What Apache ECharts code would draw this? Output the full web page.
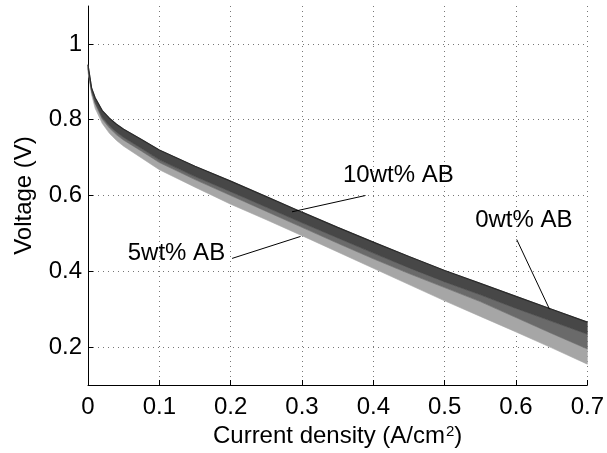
<!DOCTYPE html>
<html><head><meta charset="utf-8">
<script src="https://cdn.jsdelivr.net/npm/echarts@6/dist/echarts.min.js"></script>
<style>html,body{margin:0;padding:0;background:#fff}#c{width:607px;height:453px}</style>
</head><body><div id="c"></div>
<script>
// Current density (A/cm^2)
const currentDensity = [0, 0.005, 0.01, 0.02, 0.03, 0.04, 0.05, 0.075, 0.1, 0.15, 0.2, 0.25, 0.3, 0.35, 0.4, 0.45, 0.5, 0.55, 0.6, 0.65, 0.7];
// Upper edge of the band (darkest curves)
const upperEdge = [0.945, 0.884, 0.858, 0.824, 0.804, 0.788, 0.775, 0.748, 0.72, 0.677, 0.638, 0.597, 0.556, 0.516, 0.477, 0.439, 0.402, 0.368, 0.334, 0.30, 0.266];
// Lower edge of the dark curves
const darkLower = [0.938, 0.877, 0.846, 0.806, 0.784, 0.767, 0.753, 0.724, 0.694, 0.650, 0.610, 0.569, 0.528, 0.488, 0.448, 0.409, 0.372, 0.338, 0.302, 0.268, 0.234];
// Lower edge of the medium curves
const midLower = [0.935, 0.874, 0.842, 0.801, 0.778, 0.760, 0.746, 0.717, 0.687, 0.642, 0.600, 0.558, 0.516, 0.474, 0.433, 0.394, 0.357, 0.320, 0.278, 0.236, 0.195];
// Lower edge of the band (lightest curves)
const lowerEdge = [0.925, 0.866, 0.830, 0.790, 0.764, 0.745, 0.730, 0.699, 0.668, 0.622, 0.577, 0.536, 0.494, 0.451, 0.408, 0.365, 0.322, 0.281, 0.24, 0.198, 0.155];

const yTickValues = [0.2, 0.4, 0.6, 0.8, 1];
const annotations = [
  { text: '10wt% AB', at: [0.435, 0.653], from: [0.389, 0.600], to: [0.286, 0.557] },
  { text: '5wt% AB',  at: [0.124, 0.447], from: [0.202, 0.434], to: [0.298, 0.492] },
  { text: '0wt% AB',  at: [0.611, 0.534], from: [0.601, 0.484], to: [0.647, 0.300] }
];

const FONT = '"Liberation Sans", Arial, Helvetica, sans-serif';
const pairs = (ys) => currentDensity.map((x, i) => [x, ys[i]]);

function bandSeries(name, upper, lower, color) {
  return {
    type: 'custom', name: name, silent: true,
    data: [[currentDensity[0], upper[0]]],
    renderItem: function (params, api) {
      const top = upper.map((y, i) => api.coord([currentDensity[i], y]));
      const bot = lower.map((y, i) => api.coord([currentDensity[i], y])).reverse();
      return { type: 'polygon', shape: { points: top.concat(bot) }, style: { fill: color, stroke: color, lineWidth: 0.6 } };
    }
  };
}

const chart = echarts.init(document.getElementById('c'), null, { renderer: 'canvas' });
chart.setOption({
  animation: false,
  grid: { left: 88, right: 17, top: 6, bottom: 68, containLabel: false },
  xAxis: {
    type: 'value', min: 0, max: 0.7, interval: 0.1,
    name: 'Current density (A/cm{sup|2})',
    nameLocation: 'middle', nameGap: 39,
    nameTextStyle: {
      color: '#000', fontSize: 24, fontFamily: FONT,
      rich: { sup: { fontSize: 15, verticalAlign: 'top', fontFamily: FONT, color: '#000', padding: [0, 0, 0, 1] } }
    },
    axisLine: { onZero: false, lineStyle: { color: '#000', width: 1 } },
    axisTick: { inside: true, length: 5, lineStyle: { color: '#000' } },
    axisLabel: { color: '#000', fontSize: 24, fontFamily: FONT, margin: 10 },
    splitLine: { show: true, lineStyle: { color: '#777', type: [1, 4], width: 1 } }
  },
  yAxis: {
    type: 'value', min: 0.1, max: 1.1,
    name: 'Voltage (V)', nameLocation: 'middle', nameGap: 52,
    nameTextStyle: { color: '#000', fontSize: 24, fontFamily: FONT },
    axisLine: { show: true, lineStyle: { color: '#000', width: 1 } },
    axisTick: { show: true, inside: true, length: 5, customValues: yTickValues, lineStyle: { color: '#000' } },
    axisLabel: { color: '#000', fontSize: 24, fontFamily: FONT, margin: 6, customValues: yTickValues },
    splitLine: { show: true, lineStyle: { color: '#777', type: [1, 4], width: 1 } }
  },
  series: [
    bandSeries('light', midLower, lowerEdge, '#a6a6a6'),
    bandSeries('medium', darkLower, midLower, '#6a6a6a'),
    bandSeries('dark', upperEdge, darkLower, '#474747'),
    { type: 'line', name: 'upper', data: pairs(upperEdge), symbol: 'none', silent: true, lineStyle: { color: '#2a2a2a', width: 1.2 } }
  ]
});

const px = (p) => chart.convertToPixel({ gridIndex: 0 }, p);
const g = [];
annotations.forEach((a) => {
  const f = px(a.from), t = px(a.to), c = px(a.at);
  g.push({ type: 'line', shape: { x1: f[0], y1: f[1], x2: t[0], y2: t[1] }, style: { stroke: '#000', lineWidth: 1 }, z: 100 });
  g.push({ type: 'text', x: c[0], y: c[1], style: { text: a.text, fill: '#000', font: '24px ' + FONT, textAlign: 'center', textVerticalAlign: 'middle' }, z: 100 });
});
chart.setOption({ graphic: g });
</script>
</body></html>
